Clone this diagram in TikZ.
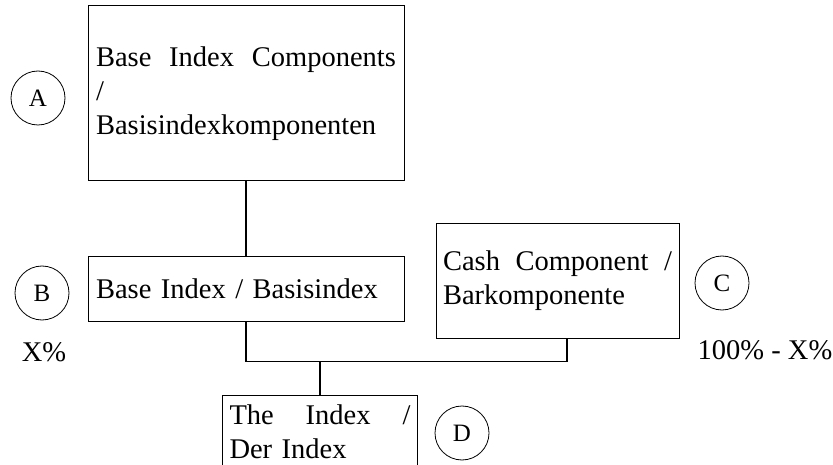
\documentclass[tikz,border=0pt]{standalone}
\usepackage{fontspec}
\setmainfont{Liberation Serif}
\usetikzlibrary{calc}
\begin{document}
\begin{tikzpicture}[x=1pt,y=-1pt,
  box/.style={draw,line width=1pt,rectangle,inner xsep=8pt,inner ysep=0pt,align=left,font=\fontsize{28.5}{34}\selectfont},
  tagcirc/.style={draw,line width=0.8pt,circle,minimum size=54pt,inner sep=0pt,font=\fontsize{25}{27}\selectfont},
  lbl/.style={inner sep=0pt,font=\fontsize{28.5}{34}\selectfont},
  conn/.style={line width=1.3pt}]
\useasboundingbox (0,0) rectangle (833,465);
\clip (0,0) rectangle (833,465);
\node[box,minimum width=316pt,minimum height=175pt,text width=300pt] (A) at (246,93.5)
  {Base\hfill Index\hfill Components\\ /\\ Basisindexkomponenten};
\node[box,minimum width=316pt,minimum height=64pt,text width=300pt] (B) at (246,289)
  {Base Index / Basisindex};
\node[box,minimum width=243pt,minimum height=114pt,text width=229pt,inner xsep=7pt] (C) at (557.5,281)
  {Cash\hfill Component\hfill /\\ Barkomponente};
\node[box,minimum width=195pt,minimum height=73pt,text width=181pt,inner xsep=7pt] (D) at (320,431.5)
  {The\hfill Index\hfill /\\ Der Index};
\node[tagcirc] (cA) at (38,98) {A};
\node[tagcirc] (cB) at (42,293) {B};
\node[tagcirc] (cC) at (722,283) {C};
\node[tagcirc] (cD) at (462,433) {D};
\node[lbl] (xp) at (44,352) {X\%};
\node[lbl] (yp) at (765,350) {100\% - X\%};
\coordinate (j) at (320,361);
\draw[conn] (A.south) -- (B.north);
\draw[conn] (B.south) |- ($(C.south)+(9.5,23)$) -- ([xshift=9.5pt]C.south);
\draw[conn] (j) -- (D.north);
\end{tikzpicture}
\end{document}
